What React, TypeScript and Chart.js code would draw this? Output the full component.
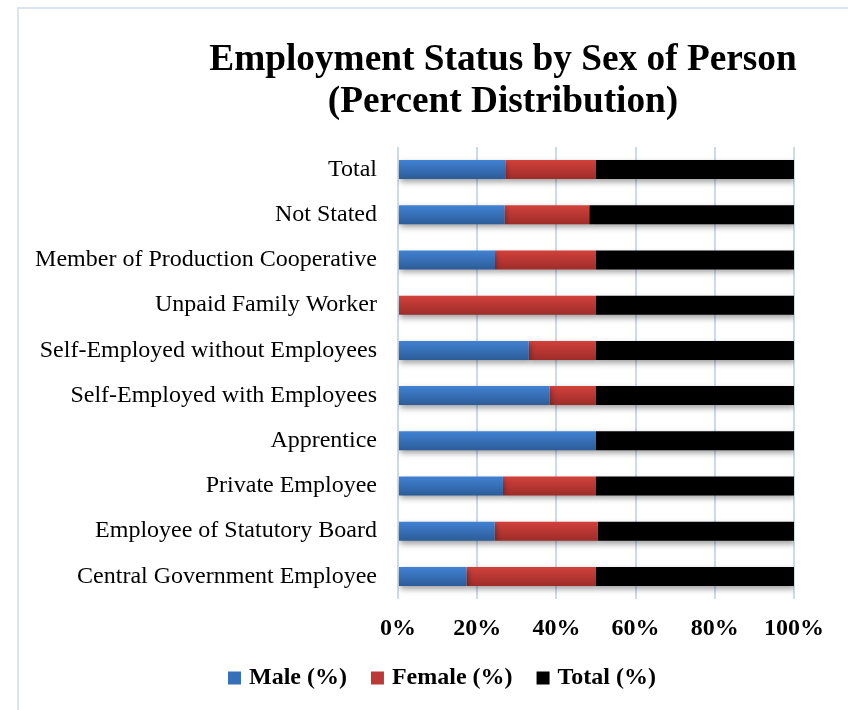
import React, { useEffect, useRef } from "react";
import { Chart, registerables } from "chart.js";

Chart.register(...registerables);

const categories = [
  "Total",
  "Not Stated",
  "Member of Production Cooperative",
  "Unpaid Family Worker",
  "Self-Employed without Employees",
  "Self-Employed with Employees",
  "Apprentice",
  "Private Employee",
  "Employee of Statutory Board",
  "Central Government Employee",
];
const malePct = [54.2, 52.0, 49.0, 0, 66.0, 76.6, 100, 53.0, 49.2, 34.6];
const femalePct = [45.8, 41.4, 51.0, 100, 34.0, 23.4, 0, 47.0, 52.4, 65.4];
const totalPct = [100, 100, 100, 100, 100, 100, 100, 100, 100, 100];
const seriesNames = ["Male (%)", "Female (%)", "Total (%)"];
const xTicks = [0, 20, 40, 60, 80, 100];

const FONT = "'Liberation Serif', 'Times New Roman', serif";
const BAR_PCT = 0.42;

function share(i: number, v: number) {
  const s = malePct[i] + femalePct[i] + totalPct[i];
  return s === 0 ? 0 : (v / s) * 100;
}

function gradientFill(top: string, bottom: string, solid: string) {
  return (c: any) => {
    const chart = c.chart;
    const area = chart.chartArea;
    const y = chart.scales && chart.scales.y;
    if (!area || !y || c.type !== "data") return solid;
    const cy = y.getPixelForValue(c.dataIndex);
    const band = (y.bottom - y.top) / categories.length;
    const h = (band * BAR_PCT) / 2;
    const g = chart.ctx.createLinearGradient(0, cy - h, 0, cy + h);
    g.addColorStop(0, top);
    g.addColorStop(1, bottom);
    return g;
  };
}

const shadowPlugin = {
  id: "barShadow",
  beforeDatasetsDraw(chart: any) {
    const ctx = chart.ctx;
    ctx.save();
    ctx.shadowColor = "rgba(0,0,0,0.38)";
    ctx.shadowBlur = 6;
    ctx.shadowOffsetX = 1;
    ctx.shadowOffsetY = 3;
  },
  afterDatasetsDraw(chart: any) {
    chart.ctx.restore();
  },
};

export default function App() {
  const ref = useRef<HTMLCanvasElement | null>(null);

  useEffect(() => {
    if (!ref.current) return;
    const legendColors = ["#3670b8", "#bb3a35", "#000000"];
    const chart = new Chart(ref.current, {
      type: "bar",
      data: {
        labels: categories,
        datasets: [
          {
            label: seriesNames[0],
            data: malePct.map((v, i) => share(i, v)),
            backgroundColor: gradientFill("#4182d3", "#2c5c98", "#3670b8"),
            borderWidth: 0,
          },
          {
            label: seriesNames[1],
            data: femalePct.map((v, i) => share(i, v)),
            backgroundColor: gradientFill("#d2413b", "#9e2c29", "#bb3a35"),
            borderWidth: 0,
          },
          {
            label: seriesNames[2],
            data: totalPct.map((v, i) => share(i, v)),
            backgroundColor: "#000000",
            borderWidth: 0,
          },
        ],
      },
      options: {
        indexAxis: "y",
        animation: false,
        responsive: false,
        maintainAspectRatio: false,
        datasets: {
          bar: { categoryPercentage: 1, barPercentage: BAR_PCT },
        },
        layout: { padding: { left: 20, right: -20, top: 147, bottom: 10 } },
        scales: {
          x: {
            stacked: true,
            min: 0,
            max: 100,
            afterBuildTicks: (s: any) => {
              s.ticks = xTicks.map((v) => ({ value: v }));
            },
            afterFit: (s: any) => {
              s.paddingRight = 54;
              s.height = 39;
            },
            grid: { color: "#ccdaee", lineWidth: 2, drawTicks: false },
            border: { display: false },
            ticks: {
              padding: 15,
              color: "#000",
              font: { family: FONT, size: 24, weight: "bold" },
              callback: (v: any) => v + "%",
            },
          },
          y: {
            stacked: true,
            afterFit: (s: any) => {
              s.width = 378;
            },
            grid: { display: false, drawTicks: false },
            border: { display: false },
            ticks: {
              padding: 21,
              color: "#000",
              font: { family: FONT, size: 24 },
            },
          },
        },
        plugins: {
          title: { display: false },
          tooltip: { enabled: false },
          legend: {
            display: true,
            position: "bottom",
            labels: {
              usePointStyle: true,
              boxWidth: 5,
              boxHeight: 13,
              padding: 28,
              color: "#000",
              font: { family: FONT, size: 24, weight: "bold" },
              generateLabels: () =>
                seriesNames.map((n, i) => ({
                  text: n,
                  fillStyle: legendColors[i],
                  strokeStyle: legendColors[i],
                  lineWidth: 0,
                  pointStyle: "rect",
                  hidden: false,
                  datasetIndex: i,
                })),
            },
          },
        },
      },
      plugins: [shadowPlugin],
    } as any);
    return () => chart.destroy();
  }, []);

  return (
    <div
      style={{
        position: "absolute",
        left: 0,
        top: 0,
        width: 848,
        height: 710,
        overflow: "hidden",
        background: "#fff",
      }}
    >
      <div
        style={{
          position: "absolute",
          left: 17,
          top: 7,
          width: 900,
          height: 800,
          border: "2px solid #dae4f3",
          boxSizing: "border-box",
        }}
      />
      <canvas
        ref={ref}
        width={848}
        height={710}
        style={{ position: "absolute", left: 0, top: 0, width: 848, height: 710 }}
      />
      <div
        style={{
          position: "absolute",
          left: 153,
          top: 37,
          width: 700,
          textAlign: "center",
          fontFamily: FONT,
          fontWeight: "bold",
          fontSize: 37.3,
          lineHeight: "41.5px",
          color: "#000",
          whiteSpace: "nowrap",
        }}
      >
        <div>Employment Status by Sex of Person</div>
        <div>(Percent Distribution)</div>
      </div>
    </div>
  );
}
